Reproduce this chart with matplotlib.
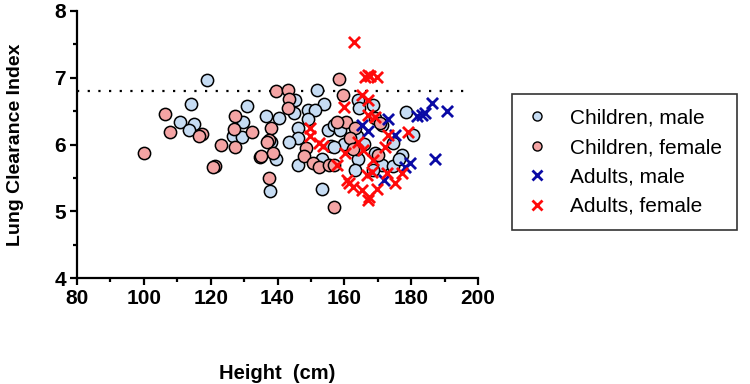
import numpy as np
import matplotlib
matplotlib.use('Agg')
import matplotlib.pyplot as plt
from matplotlib.ticker import MultipleLocator
from matplotlib.lines import Line2D

plt.rcParams['font.family'] = ['Liberation Sans', 'DejaVu Sans']

# children, male (height cm, LCI)
cm_h = [119, 114, 110.8, 115, 113.6, 131, 129.8, 126.8, 129.4, 136.5, 140.3, 138, 139.5,
        137.8, 145.3, 145, 146, 146, 143.3, 146, 151.9, 154, 149, 151.2, 149, 155.1, 157,
        155.9, 159.9, 153.4, 153.3, 164.2, 164.4, 168.7, 163.7, 166, 164.2, 163.2, 171.2,
        169.2, 171.2, 174.7, 177.2, 174.7, 178.4, 180.5, 158.7, 156.8, 168.7, 176.5]
cm_lci = [6.97, 6.60, 6.34, 6.31, 6.21, 6.57, 6.34, 6.12, 6.11, 6.42, 6.40, 6.03, 5.78,
          5.31, 6.66, 6.47, 6.25, 6.10, 6.03, 5.69, 6.82, 6.61, 6.51, 6.52, 6.38, 6.22, 6.29,
          5.98, 6.01, 5.33, 5.78, 6.67, 6.55, 6.59, 6.12, 6.01, 5.78, 5.62, 6.29,
          5.88, 5.70, 6.02, 5.85, 5.68, 6.49, 6.14, 6.22, 5.97, 5.62, 5.78]

# children, female
cf_h = [100, 106.4, 107.8, 117.4, 116.5, 127.3, 127, 127.3, 123.1, 132.5, 121.2, 120.8,
        134.8, 139.7, 143.1, 143.5, 143.1, 138, 137.5, 137, 138.8, 135, 137.6, 148.4, 148,
        150.7, 152.5, 155.5, 158.4, 159.6, 160.5, 157, 170.2, 163.9, 169.2, 157.7, 163.2,
        161.7, 162.7, 156.8, 170.7]
cf_lci = [5.87, 6.45, 6.18, 6.16, 6.12, 6.43, 6.23, 5.96, 6.00, 6.19, 5.68, 5.67,
          5.82, 6.80, 6.81, 6.68, 6.55, 6.24, 6.06, 6.04, 5.87, 5.83, 5.50, 5.95, 5.83,
          5.72, 5.67, 5.70, 6.98, 6.74, 6.33, 5.06, 5.84, 5.94, 6.39, 6.34, 6.24,
          6.09, 5.94, 5.69, 6.32]

# adults, male
am_h = [165.2, 167.2, 173.2, 186.2, 181.7, 183.2, 184.2, 190.7, 187.2, 175.2, 179.7, 178.2, 172]
am_lci = [6.29, 6.20, 6.38, 6.62, 6.43, 6.44, 6.47, 6.50, 5.78, 6.14, 5.72, 5.67, 5.47]

# adults, female
af_h = [162.9, 166.2, 167, 167.7, 169.7, 165.2, 167.2, 160, 167.2, 169.2, 149.8, 149.8,
        152.3, 153.5, 179.2, 173.2, 172.2, 160.2, 164.2, 165.7, 168.5, 157.9, 166.7, 160.9,
        162.7, 165.2, 169.9, 167.2, 167.4, 172.7, 175.2, 177.2, 168.4, 161.5]
af_lci = [7.54, 7.01, 7.04, 7.02, 7.01, 6.74, 6.67, 6.56, 6.44, 6.41, 6.24, 6.13,
          6.02, 5.98, 6.18, 6.14, 5.97, 5.87, 6.04, 5.92, 5.77, 5.69, 5.54, 5.47,
          5.37, 5.32, 5.34, 5.17, 5.22, 5.57, 5.42, 5.58, 5.59, 5.42]

ref_lci = 6.8

c_male = '#c6dcf3'
c_female = '#f4a4a4'
c_am = '#0a0aa5'
c_af = '#ff0a0a'

fig = plt.figure(figsize=(7.5, 3.84), dpi=100)
ax = fig.add_axes([77/750, 1-278/384, 401/750, 267/384])

ax.plot([80, 198], [ref_lci, ref_lci], color='black', lw=1.6, ls=(0, (1, 3.8)), zorder=1)

ax.scatter(cm_h, cm_lci, s=78, c=c_male, edgecolors='black', linewidths=1.1, zorder=2)
ax.scatter(cf_h, cf_lci, s=78, c=c_female, edgecolors='black', linewidths=1.1, zorder=2)
ax.scatter(am_h, am_lci, s=64, marker='x', c=c_am, linewidths=2.0, zorder=3)
ax.scatter(af_h, af_lci, s=64, marker='x', c=c_af, linewidths=2.0, zorder=3)

ax.set_xlim(80, 200)
ax.set_ylim(4, 8)
ax.xaxis.set_major_locator(MultipleLocator(20))
ax.xaxis.set_minor_locator(MultipleLocator(10))
ax.yaxis.set_major_locator(MultipleLocator(1))
ax.yaxis.set_minor_locator(MultipleLocator(0.5))
for s in ['top', 'right']:
    ax.spines[s].set_visible(False)
for s in ['left', 'bottom']:
    ax.spines[s].set_linewidth(1.6)
ax.tick_params(which='major', length=5, width=1.6, labelsize=15, pad=3)
ax.tick_params(which='minor', length=3, width=1.6)
for lab in ax.get_xticklabels() + ax.get_yticklabels():
    lab.set_fontweight('bold')

ax.set_xlabel('Height  (cm)', fontsize=14.5, fontweight='bold', labelpad=40)
ax.set_ylabel('Lung Clearance Index', fontsize=14, fontweight='bold', labelpad=22)

handles = [
    Line2D([], [], ls='none', marker='o', ms=6.5, mfc=c_male, mec='black', mew=1.0),
    Line2D([], [], ls='none', marker='o', ms=6.5, mfc=c_female, mec='black', mew=1.0),
    Line2D([], [], ls='none', marker='x', ms=6.5, mec=c_am, mew=2.0),
    Line2D([], [], ls='none', marker='x', ms=6.5, mec=c_af, mew=2.0),
]
labels = ['Children, male', 'Children, female', 'Adults, male', 'Adults, female']
leg = fig.legend(handles, labels, loc='upper left', bbox_to_anchor=(512/750, 1-94/384),
                 fontsize=15, frameon=True, fancybox=False, edgecolor='black',
                 borderpad=0.7, labelspacing=0.5, handlelength=1.0, handletextpad=1.1,
                 borderaxespad=0)
leg.get_frame().set_linewidth(1.2)

fig.savefig('out.png', dpi=100)
